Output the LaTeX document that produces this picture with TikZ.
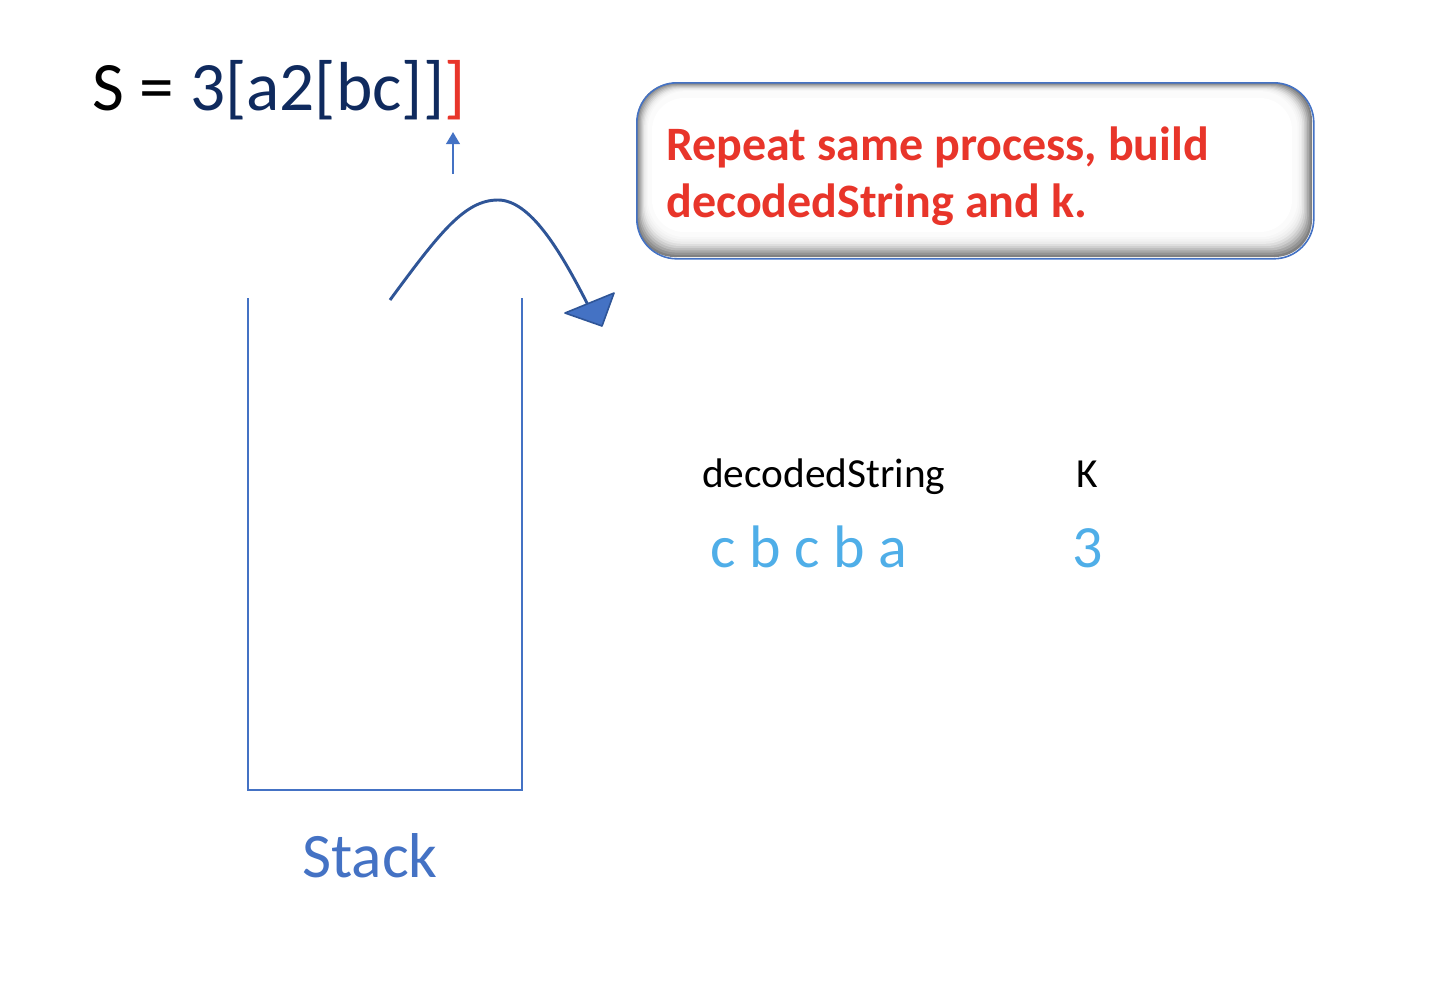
\documentclass[tikz,border=0pt]{standalone}
\usepackage{fontspec}
\setmainfont{Carlito}
\usetikzlibrary{arrows.meta}
\definecolor{stackblue}{HTML}{4472C4}
\definecolor{arcblue}{HTML}{2F5597}
\definecolor{navy}{HTML}{0F2A5E}
\definecolor{redtxt}{HTML}{E8352A}
\definecolor{lightblue}{HTML}{4FAEE8}
\begin{document}
\begin{tikzpicture}[x=0.75pt,y=-0.75pt,
  lbl/.style={inner sep=0pt,anchor=base west},
  stackline/.style={draw=stackblue,line width=1.5pt},
  arc/.style={draw=arcblue,line width=2.2pt}]
\useasboundingbox (0,0) rectangle (1430,1004);
% title
\node[lbl,font=\fontsize{52}{56}\selectfont] (title) at (92,110) {S = \textcolor{navy}{3[a2[bc]]}\textcolor{redtxt}{]}};
% small pointer arrow
\coordinate (pa) at (453,174);
\coordinate (pb) at (453,132);
\draw[stackblue,line width=2pt,-{Triangle[length=9pt,width=10pt]}] (pa) -- (pb);
% stack
\coordinate (s1) at (248,298);
\coordinate (s2) at (248,790);
\coordinate (s3) at (522,790);
\coordinate (s4) at (522,298);
\draw[stackline] (s1) -- (s2) -- (s3) -- (s4);
\node[lbl,font=\fontsize{47.5}{50}\selectfont,text=stackblue] (stack) at (302,877) {Stack};
% arc arrow
\coordinate (c0) at (390,300);
\coordinate (c1) at (498,200);
\coordinate (c2) at (588,305);
\draw[arc] (c0) .. controls (440,232) and (465,200) .. (c1) .. controls (530,200) and (560,250) .. (c2);
\coordinate (t1) at (565,313);
\coordinate (t2) at (614,293);
\coordinate (t3) at (602,326);
\filldraw[fill=stackblue,draw=arcblue,line width=1.2pt,line join=round] (t1) -- (t2) -- (t3) -- cycle;
% rounded box with bevel shading
\foreach \i/\c in {0/50,1/58,2/66,3/74,4/81,5/87,6/92,7/95,8/97,9/98.5} {
  \fill[white!\c!black,rounded corners=28] (637+\i*1.2,83+\i*0.9) rectangle (1312-\i*1.6,257-\i*2.2);
}
\fill[white,rounded corners=24] (652,98) rectangle (1292,232);
\node[draw=stackblue,line width=1.2pt,rounded corners=30,minimum width=677*0.75pt,minimum height=176*0.75pt,anchor=north west,inner sep=0pt] (box) at (636,82) {};
\node[lbl,font=\bfseries\fontsize{36}{40}\selectfont,text=redtxt] (msg) at (666,160) {Repeat same process, build};
\node[lbl,font=\bfseries\fontsize{36}{40}\selectfont,text=redtxt] (msg2) at (666,217) {decodedString and k.};
% labels
\node[lbl,font=\fontsize{31}{34}\selectfont] (ds) at (702,487) {decodedString};
\node[lbl,font=\fontsize{31}{34}\selectfont] (k) at (1076,487) {K};
\node[lbl,font=\fontsize{45}{50}\selectfont,text=lightblue] (dsv) at (710,567) {c b c b a};
\node[lbl,font=\fontsize{45}{50}\selectfont,text=lightblue] (kv) at (1072,567) {3};
\end{tikzpicture}
\end{document}
